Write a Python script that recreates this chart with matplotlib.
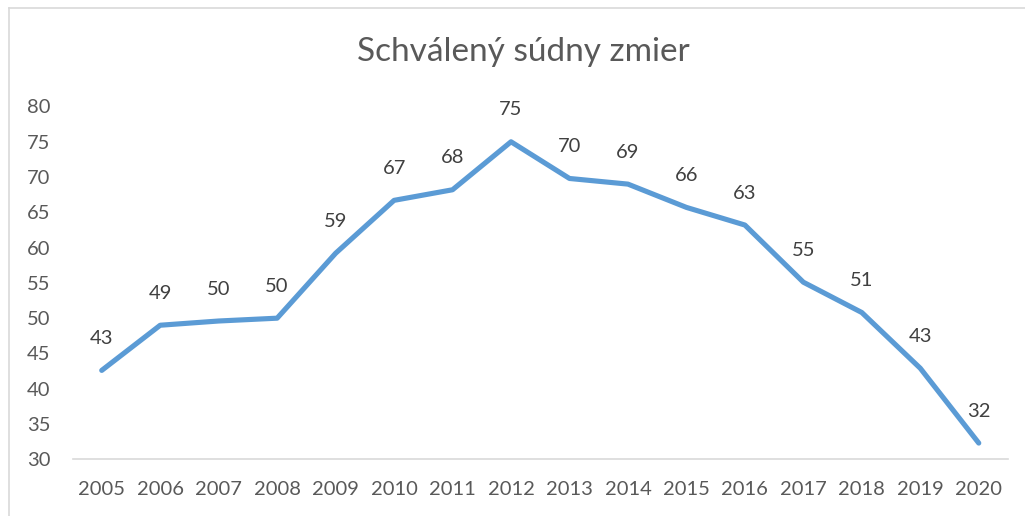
import matplotlib.pyplot as plt
from matplotlib.lines import Line2D

years = ["2005", "2006", "2007", "2008", "2009", "2010", "2011", "2012",
         "2013", "2014", "2015", "2016", "2017", "2018", "2019", "2020"]
values = [42.6, 49.0, 49.6, 50.0, 59.2, 66.7, 68.2, 75.0,
          69.8, 69.0, 65.7, 63.2, 55.1, 50.8, 42.9, 32.3]
labels = [43, 49, 50, 50, 59, 67, 68, 75, 70, 69, 66, 63, 55, 51, 43, 32]
y_ticks = [30, 35, 40, 45, 50, 55, 60, 65, 70, 75, 80]

plt.rcParams["font.family"] = ["Lato", "DejaVu Sans"]

W, H = 1025, 516
fig = plt.figure(figsize=(W / 100, H / 100), dpi=100)
ax = fig.add_axes([72.5 / W, 1 - 459.3 / H, (1008 - 72.5) / W, (459.3 - 106.5) / H])

x = list(range(len(years)))
ax.plot(x, values, color="#5B9BD5", linewidth=3.7, solid_joinstyle="round",
        solid_capstyle="round", zorder=3)
for xi, v, lab in zip(x, values, labels):
    ax.annotate(str(lab), (xi, v), xytext=(0, 23), textcoords="offset points",
                ha="center", va="center", fontsize=14.5, color="#404040")

ax.set_xlim(-0.5, len(years) - 0.5)
ax.set_ylim(30, 80)
ax.set_xticks(x, years)
ax.set_yticks(y_ticks)
ax.tick_params(axis="both", length=0, labelsize=14.5, colors="#595959")
ax.tick_params(axis="y", pad=16)
ax.tick_params(axis="x", pad=15.5)
for side in ["top", "right", "left"]:
    ax.spines[side].set_visible(False)
ax.spines["bottom"].set_color("#d9d9d9")
ax.spines["bottom"].set_linewidth(1.2)
ax.set_facecolor("none")

fig.text(523 / W, 1 - 52 / H, "Schválený súdny zmier", ha="center", va="center",
         fontsize=24, color="#595959")

# chart frame (only top and left edges are inside the picture)
fig.add_artist(Line2D([9 / W, 9 / W], [0, 1 - 8 / H], color="#d9d9d9", linewidth=1.2,
                      transform=fig.transFigure))
fig.add_artist(Line2D([9 / W, 1], [1 - 8 / H, 1 - 8 / H], color="#d9d9d9", linewidth=1.2,
                      transform=fig.transFigure))

fig.savefig("out.png", dpi=100)
